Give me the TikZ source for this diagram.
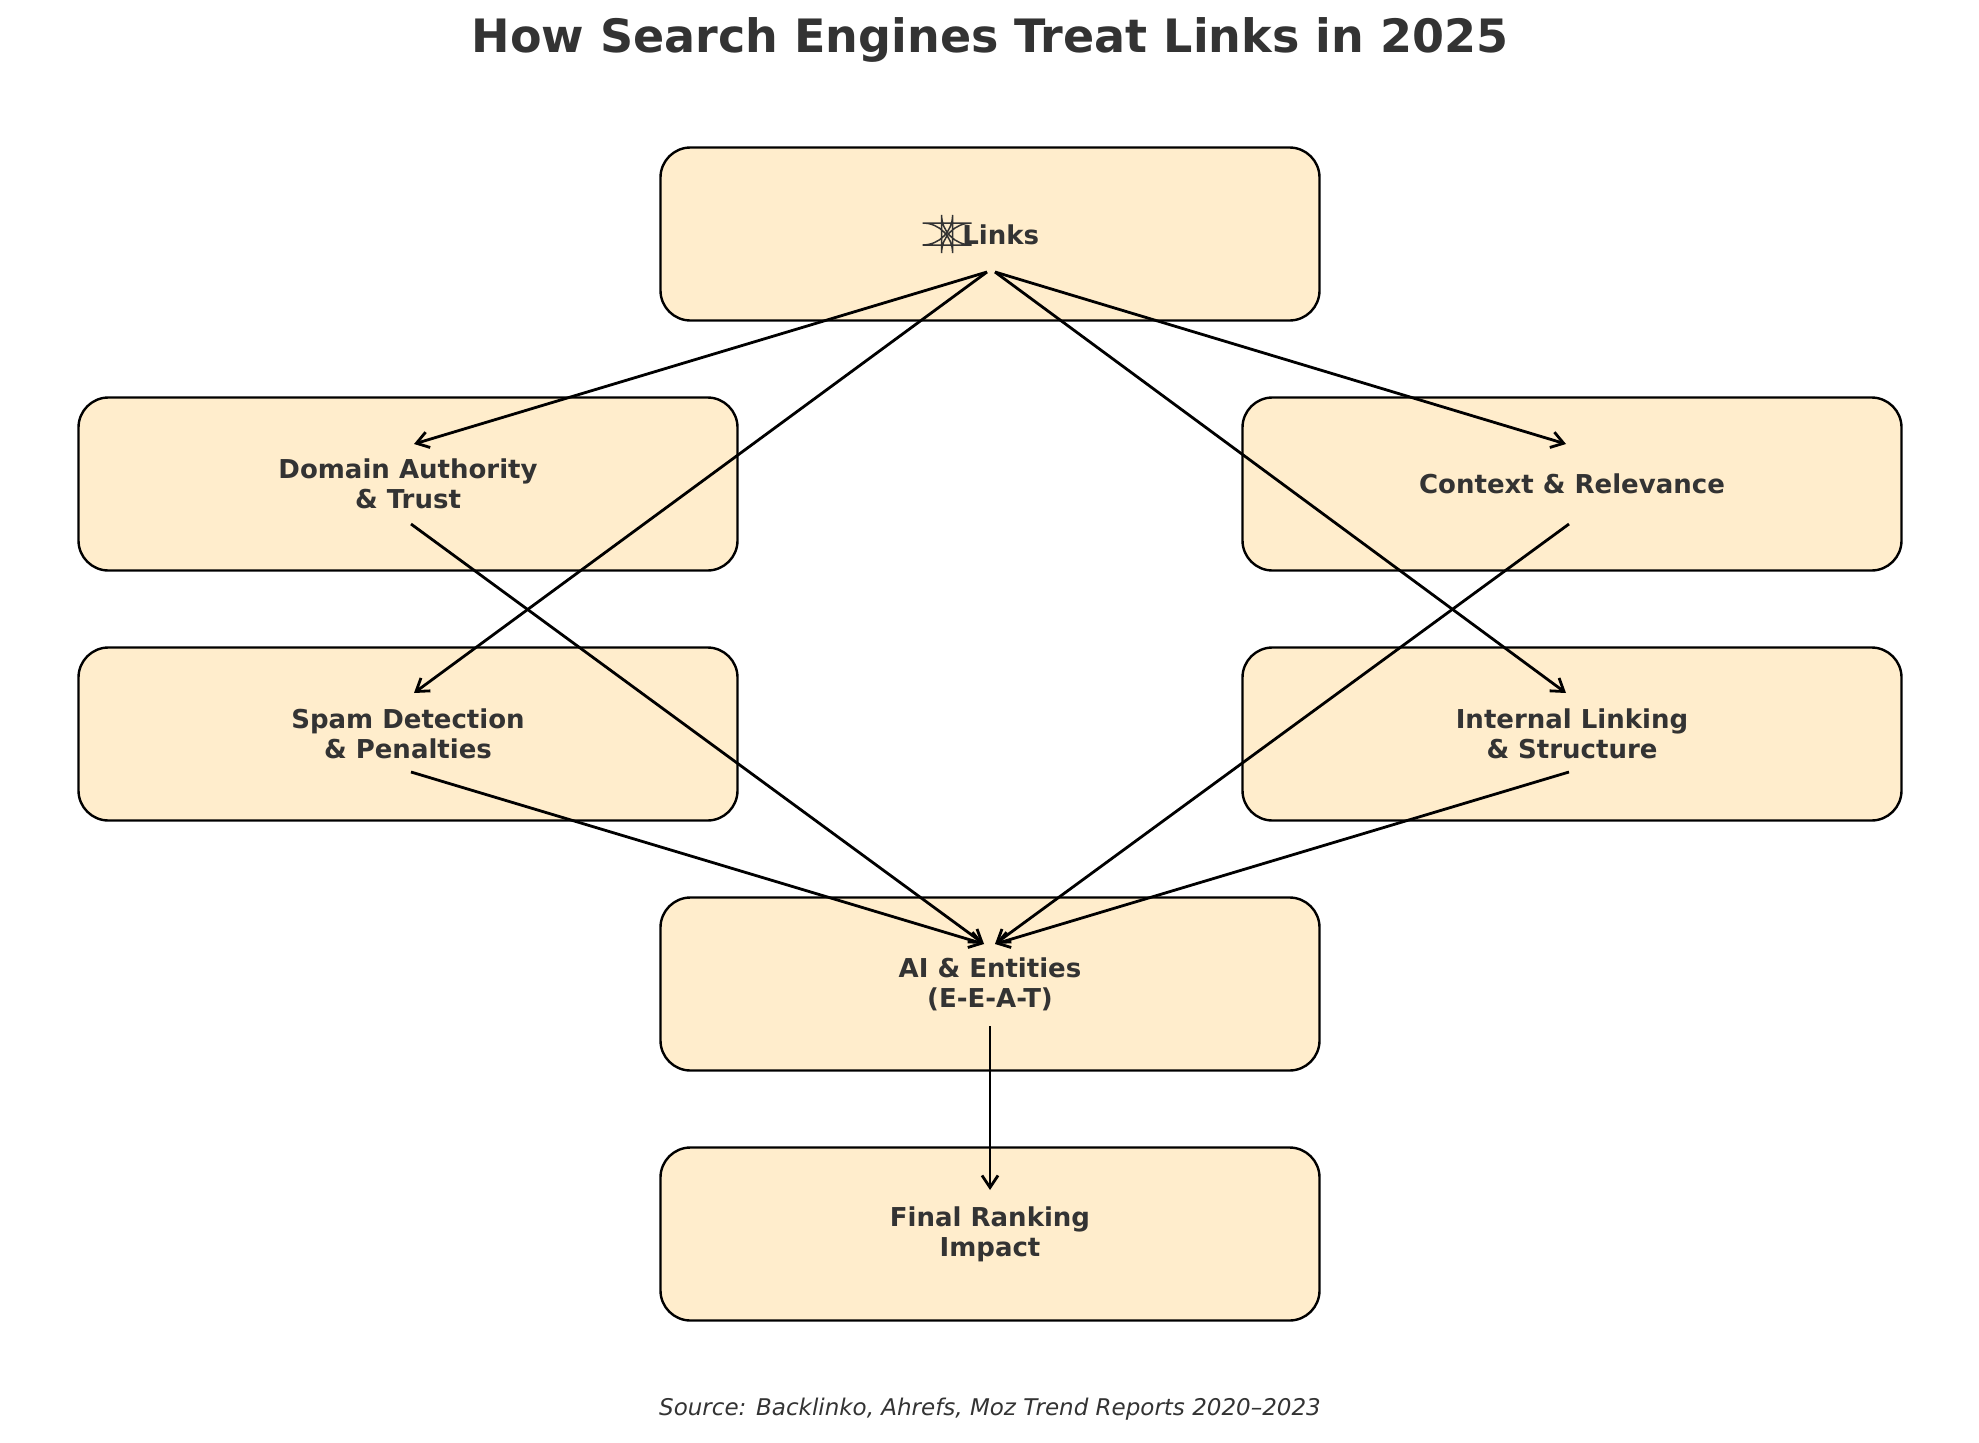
\documentclass[tikz,border=0pt]{standalone}
\usepackage{fontspec}
\setmainfont{DejaVu Sans}
\usetikzlibrary{arrows.meta}
\definecolor{boxfill}{HTML}{FFEDCC}
\definecolor{txt}{HTML}{333333}
\begin{document}
\begin{tikzpicture}[x=1pt,y=-1pt,
  box/.style={draw=black,line width=2.4pt,fill=boxfill,rounded corners=30pt,minimum width=659pt,minimum height=173pt,font=\fontsize{26}{30}\selectfont\bfseries,text=txt,align=center},
  arr/.style={line width=2.8pt,-{Straight Barb[length=12pt,width=16pt,line width=2.8pt]}}]
\useasboundingbox (0,0) rectangle (1979,1443);
\node[font=\fontsize{46}{52}\selectfont\bfseries,text=txt] (title) at (990,40) {How Search Engines Treat Links in 2025};
\node[box] (links) at (990,234) {\raisebox{-1pt}{\tikz[x=1pt,y=1pt]\draw[line width=1.5pt,txt](0,0) rectangle (11,22);}\ Links};
\node[box] (da) at (408,484) {Domain Authority\\\& Trust};
\node[box] (cr) at (1572,484) {Context \& Relevance};
\node[box] (sp) at (408,734) {Spam Detection\\\& Penalties};
\node[box] (il) at (1572,734) {Internal Linking\\\& Structure};
\node[box] (ai) at (990,984) {AI \& Entities\\(E-E-A-T)};
\node[box] (fr) at (990,1234) {Final Ranking\\Impact};
\node[font=\fontsize{23}{27}\selectfont\itshape,text=txt] (src) at (990,1409) {Source: Backlinko, Ahrefs, Moz Trend Reports 2020–2023};
\coordinate (lA) at (987,272); \coordinate (lB) at (995,272);
\coordinate (daE) at (414,444); \coordinate (daS) at (411,524);
\coordinate (crE) at (1566,444); \coordinate (crS) at (1569,524);
\coordinate (spE) at (414,693); \coordinate (spS) at (411,772);
\coordinate (ilE) at (1566,693); \coordinate (ilS) at (1569,772);
\coordinate (aiA) at (984,944); \coordinate (aiB) at (995,944); \coordinate (aiS) at (990,1026);
\coordinate (frE) at (990,1190);
\draw[arr] (lA) -- (daE);
\draw[arr] (lA) -- (spE);
\draw[arr] (lB) -- (crE);
\draw[arr] (lB) -- (ilE);
\draw[arr] (daS) -- (aiA);
\draw[arr] (spS) -- (aiA);
\draw[arr] (crS) -- (aiB);
\draw[arr] (ilS) -- (aiB);
\draw[arr] (aiS) -- (frE);
\end{tikzpicture}
\end{document}
